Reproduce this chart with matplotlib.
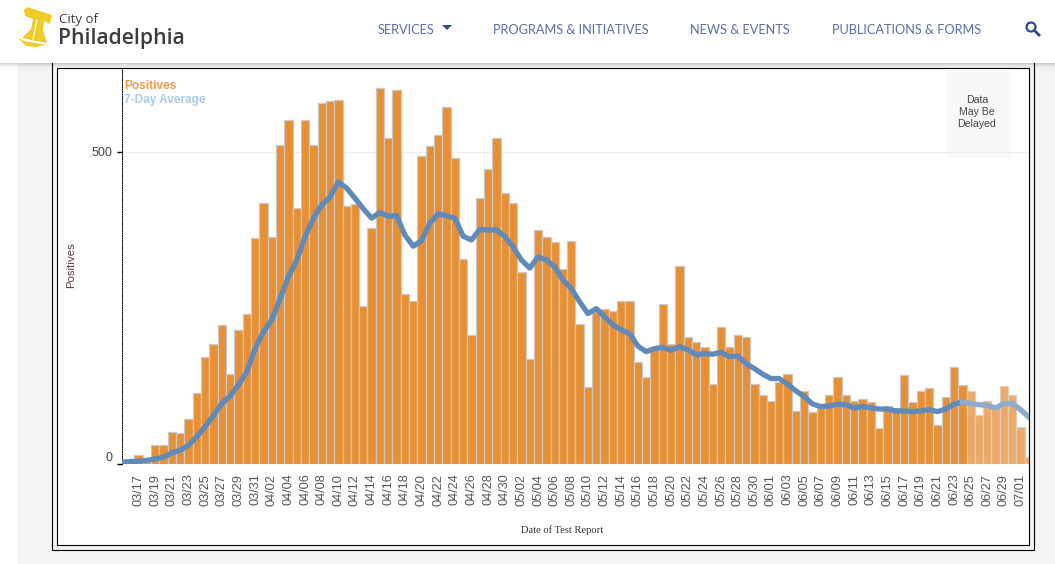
import matplotlib
matplotlib.use('Agg')
import matplotlib.pyplot as plt
from matplotlib.patches import Rectangle, Polygon, Circle
import numpy as np
import pandas as pd

# daily values, first entry is 03/15
positives = [0, 1, 15, 3, 31, 31, 52, 49, 72, 114, 171, 193, 222, 145, 214, 240,
             362, 419, 363, 511, 552, 410, 552, 512, 578, 581, 583, 414, 416, 253,
             379, 602, 522, 599, 273, 261, 493, 509, 528, 572, 490, 328, 206, 427,
             472, 522, 435, 418, 307, 168, 375, 363, 355, 312, 357, 224, 123, 244,
             248, 245, 262, 262, 164, 140, 188, 257, 193, 318, 203, 195, 188, 128,
             220, 188, 206, 204, 128, 111, 101, 132, 145, 85, 117, 83, 89, 111,
             140, 111, 101, 104, 99, 58, 93, 89, 143, 99, 117, 122, 63, 107,
             155, 127, 117, 79, 101, 92, 125, 111, 60, 12]
avg_7day = [3, 4, 4, 6, 8, 11, 18, 22, 30, 44, 60, 78, 97, 109, 127, 148,
            185, 212, 231, 265, 300, 327, 364, 394, 415, 428, 452, 442, 426, 409,
            394, 403, 397, 398, 367, 349, 358, 386, 401, 398, 394, 365, 359, 376,
            375, 375, 365, 348, 327, 314, 332, 327, 316, 295, 281, 260, 241, 249,
            236, 223, 215, 209, 189, 180, 185, 187, 182, 188, 183, 175, 177, 176,
            179, 172, 173, 161, 153, 144, 137, 137, 128, 117, 108, 96, 92, 93,
            96, 95, 90, 92, 90, 88, 88, 85, 85, 84, 85, 87, 84, 88,
            96, 99, 97, 95, 94, 90, 97, 97, 87, 75]
nav_labels = ['SERVICES', 'PROGRAMS & INITIATIVES', 'NEWS & EVENTS', 'PUBLICATIONS & FORMS']
nav_x = [378, 493, 690, 832]

dates = pd.date_range('2020-03-15', periods=len(positives))
days = np.arange(len(positives))
delayed_from = list(dates).index(pd.Timestamp('2020-06-25'))

W, H = 1055, 564
fig = plt.figure(figsize=(W/100, H/100), dpi=100, facecolor='white')

# page furniture, in pixels
page = fig.add_axes([0, 0, 1, 1], zorder=0)
page.set_xlim(0, W); page.set_ylim(H, 0); page.axis('off')
page.add_patch(Rectangle((18, 63), W-18, H-63, fc='#F4F4F4', ec='none'))
page.add_patch(Rectangle((52, 60), 982, 490, fc='#F4F4F4', ec='black', lw=0.8))
page.add_patch(Rectangle((56.5, 68), 972.5, 477, fc='white', ec='black', lw=0.8))
page.add_patch(Rectangle((947, 69), 63, 88, fc='#F8F8F8', ec='none'))
page.add_patch(Rectangle((0, 0), W, 63, fc='white', ec='none', zorder=5))
for i, a in enumerate([0.16, 0.11, 0.07, 0.04, 0.02]):
    page.add_patch(Rectangle((0, 63+i), W, 1, fc='black', alpha=a, ec='none', zorder=5))

# bell logo
bell = '#F0CC2A'
page.add_patch(Polygon([(24, 10), (27, 7), (52, 15), (50, 24), (44, 21), (43, 30), (47, 43),
                        (31, 40), (22, 38), (31, 29), (33, 19), (25, 16)],
                       fc=bell, ec='none', zorder=6))
page.add_patch(Polygon([(18, 38), (24, 41), (46, 45), (36, 47), (26, 46)], fc=bell, ec='none', zorder=6))
page.plot([37, 33], [20, 39], color='white', lw=0.8, zorder=7)
page.text(59, 19, 'City of', fontsize=9.5, family='Open Sans', color='#3C3C3C', va='center', zorder=6)
page.text(58, 38.5, 'Philadelphia', fontsize=15.2, family='Open Sans', weight='semibold',
          color='#3C3C3C', va='center', zorder=6)

for label, x in zip(nav_labels, nav_x):
    page.text(x, 29.5, label, fontsize=9.2, family='Lato', color='#5A6FA3', va='center', zorder=6)
page.add_patch(Polygon([(442, 25), (452, 25), (447, 30)], fc='#2B4A8C', ec='none', zorder=6))
page.add_patch(Circle((1031, 27), 4.5, fc='none', ec='#2B4A8C', lw=1.6, zorder=6))
page.plot([1034.5, 1039], [30.5, 35], color='#2B4A8C', lw=2, zorder=6)

page.text(124, 86, 'Positives', fontsize=8.6, family='Liberation Sans', weight='bold', color='#EE9A4D', va='center')
page.text(124, 100, '7-Day Average', fontsize=8.6, family='Liberation Sans', weight='bold', color='#A9CCE8', va='center')
page.text(977, 112, 'Data\nMay Be\nDelayed', fontsize=7.6, family='Liberation Sans', color='#444444',
          ha='center', va='center', linespacing=1.25)
page.text(71, 265, 'Positives', fontsize=8.2, family='Liberation Sans', color='#5A3A3A',
          rotation=90, ha='center', va='center')
page.text(562, 530.5, 'Date of Test Report', fontsize=7.6, family='Liberation Serif', color='#333333',
          ha='center', va='center')

# the chart itself
ax = fig.add_axes([121.6/W, 1-464/H, (1028.5-121.6)/W, (464-68)/H], zorder=1)
ax.patch.set_alpha(0)
bar_colors = ['#E88F33' if i < delayed_from else '#EDA965' for i in days]
edge_colors = ['#C9C9C9' if i < delayed_from else '#DDD0C0' for i in days]
ax.bar(days, positives, width=1.0, color=bar_colors, edgecolor=edge_colors, linewidth=0.9, zorder=2)
ax.plot(days[:delayed_from], avg_7day[:delayed_from], color='#5F8ABA', lw=3.8, zorder=3,
        solid_joinstyle='round')
ax.plot(days[delayed_from-1:], avg_7day[delayed_from-1:], color='#8CABCD', lw=3.8, zorder=3,
        solid_joinstyle='round')

ax.set_xlim(-0.05, 108.95)
ax.set_ylim(0, (464-68)/0.624)
ax.set_yticks([0, 500])
ax.set_yticklabels(['0', '500'], fontsize=9, family='Liberation Sans', color='#444444')
ax.get_yticklabels()[0].set_verticalalignment('bottom')
ax.tick_params(axis='y', length=3.5, width=1, pad=3, color='black')
ax.axhline(500, color='#EEEEEE', lw=0.8, zorder=1)
ax.set_xticks(days[2::2])
ax.set_xticklabels(dates[2::2].strftime('%m/%d'), rotation=90, fontsize=9.2,
                   family='Liberation Sans', color='#555555')
ax.tick_params(axis='x', length=0, pad=7)
for s in ['top', 'bottom']:
    ax.spines[s].set_visible(False)
for s in ['left', 'right']:
    ax.spines[s].set_linestyle((0, (1, 1.4)))
    ax.spines[s].set_linewidth(0.72)
    ax.spines[s].set_color('black')

plt.savefig('out.png', dpi=100)
